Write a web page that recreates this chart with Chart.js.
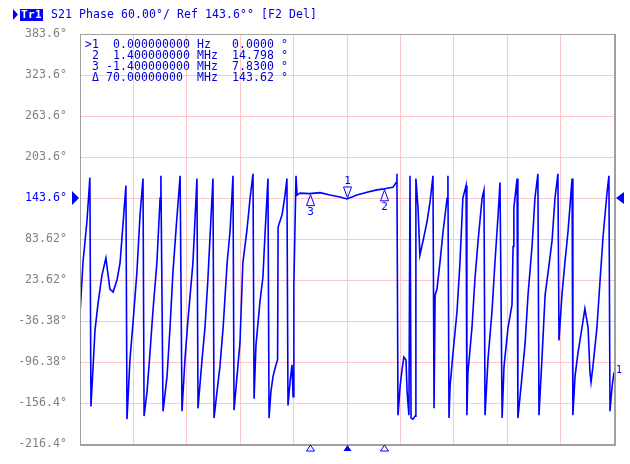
<!DOCTYPE html>
<html>
<head>
<meta charset="utf-8">
<script src="https://cdn.jsdelivr.net/npm/chart.js@4/dist/chart.umd.min.js"></script>
<style>
  body { margin: 0; background: #fff; }
  #chart { display: block; }
</style>
</head>
<body>
<canvas id="chart" width="630" height="464"></canvas>
<script>
// S21 phase trace (MHz offset from centre, degrees)
freqMHz = [
  -10.00, -9.89, -9.74, -9.63, -9.59, -9.51, -9.44, -9.33, -9.18, -9.03,
  -8.88, -8.76, -8.61, -8.50, -8.39, -8.28, -8.24, -8.13, -8.01, -7.87,
  -7.75, -7.64, -7.60, -7.49, -7.38, -7.27, -7.12, -7.00, -6.97, -6.89,
  -6.74, -6.63, -6.52, -6.37, -6.25, -6.18, -6.07, -5.96, -5.77, -5.62,
  -5.58, -5.43, -5.32, -5.21, -5.02, -4.98, -4.87, -4.76, -4.64, -4.49,
  -4.38, -4.27, -4.23, -4.12, -4.01, -3.90, -3.75, -3.63, -3.52, -3.48,
  -3.41, -3.26, -3.15, -3.07, -2.96, -2.92, -2.85, -2.77, -2.66, -2.60,
  -2.58, -2.43, -2.32, -2.25, -2.21, -2.13, -2.06, -2.02, -1.99, -1.91,
  -1.87, -1.76, -1.40, -1.01, -0.64, -0.26, 0.00, 0.37, 0.75, 1.12,
  1.40, 1.50, 1.72, 1.84, 1.87, 1.91, 1.99, 2.06, 2.13, 2.21,
  2.25, 2.32, 2.36, 2.40, 2.47, 2.55, 2.58, 2.66, 2.73, 2.85,
  3.00, 3.11, 3.22, 3.26, 3.30, 3.37, 3.48, 3.60, 3.75, 3.78,
  3.82, 3.86, 3.97, 4.12, 4.23, 4.34, 4.46, 4.49, 4.53, 4.68,
  4.79, 4.91, 5.06, 5.13, 5.17, 5.28, 5.43, 5.54, 5.66, 5.73,
  5.81, 5.88, 6.03, 6.18, 6.22, 6.25, 6.37, 6.40, 6.52, 6.67,
  6.78, 6.93, 7.04, 7.15, 7.19, 7.30, 7.42, 7.53, 7.68, 7.79,
  7.90, 7.94, 8.05, 8.16, 8.28, 8.43, 8.46, 8.54, 8.65, 8.80,
  8.91, 9.03, 9.10, 9.14, 9.21, 9.36, 9.48, 9.59, 9.74, 9.81,
  9.85, 9.93, 10.00
];
phaseDeg = [
  -26.6, 48.6, 109.6, 173.4, -161.4, -103.2, -50.7, -12.4, 30.1, 55.7,
  10.3, 6.0, 24.4, 48.6, 105.3, 162.0, -179.9, -93.3, -36.5, 34.4,
  119.5, 172.0, -175.5, -140.1, -83.3, -22.4, 48.6, 143.6, 176.2, -168.5,
  -117.4, -46.5, 34.4, 115.2, 176.2, -168.5, -93.3, -36.5, 48.6, 172.0,
  -164.2, -93.3, -46.5, 24.4, 172.0, -178.4, -140.1, -103.2, -46.5, 48.6,
  95.4, 176.2, -167.0, -117.4, -69.2, 48.6, 95.4, 143.6, 179.1, -150.0,
  -72.0, -8.1, 27.3, 91.1, 172.0, -178.4, -140.1, -117.4, -100.4, -93.3,
  101.0, 119.5, 147.9, 172.0, -159.9, -124.5, -100.4, -147.2, 15.9, 176.2,
  147.9, 150.7, 150.0, 151.5, 147.9, 145.0, 142.2, 147.9, 152.1, 155.5,
  157.0, 157.8, 159.2, 166.3, 179.1, -174.1, -131.6, -107.5, -89.0, -93.3,
  -140.1, -174.1, 176.2, -178.4, -179.9, -175.5, 172.0, 129.4, 59.9, 81.2,
  109.6, 137.9, 176.2, -164.2, 1.8, 10.3, 48.6, 95.4, 143.6, 176.2,
  -178.4, -131.6, -83.3, -22.4, 48.6, 143.6, 162.0, -174.1, -111.7, -46.5,
  24.4, 81.2, 143.6, 155.0, -174.1, -93.3, -22.4, 48.6, 119.5, 166.3,
  -178.4, -103.2, -46.5, -12.4, 72.7, 129.4, 172.0, -178.4, -131.6, -69.2,
  1.8, 72.7, 143.6, 179.1, -174.1, -93.3, 1.8, 34.4, 81.2, 143.6,
  179.1, -64.9, 1.8, 48.6, 95.4, 172.0, -174.1, -117.4, -83.3, -46.5,
  -18.1, -46.5, -111.7, -125.9, -103.2, -46.5, 24.4, 86.9, 152.1, 176.2,
  -168.5, -131.6, -111.7
];

tickValues = [383.6, 323.6, 263.6, 203.6, 143.6, 83.62, 23.62, -36.38, -96.38, -156.4, -216.4];
tickLabels = ['383.6°', '323.6°', '263.6°', '203.6°', '143.6°', '83.62°', '23.62°', '-36.38°', '-96.38°', '-156.4°', '-216.4°'];
refLevel = 143.6;

markerFreq = [0, 1.4, -1.4];
markerPhase = [142.2, 157.0, 150.0];
markerNames = ['1', '2', '3'];

markerRows = [
  '>1  0.000000000 Hz   0.0000 °',
  ' 2  1.400000000 MHz  14.798 °',
  ' 3 -1.400000000 MHz  7.8300 °',
  ' Δ 70.00000000  MHz  143.62 °'
];

headerText = 'S21 Phase 60.00°/ Ref 143.6°° [F2 Del]';

var blue = '#0000ff';
var textBlue = '#0000d8';
var labelGrey = '#808080';
var mono = '"DejaVu Sans Mono", "Liberation Mono", monospace';

function monoText(ctx, s, x, y) {
  // fixed 7px pitch like the analyser screen
  for (var i = 0; i < s.length; i++) {
    ctx.fillText(s[i], x + i * 7, y);
  }
}

function tri(ctx, x, y, w, h, fill) {
  ctx.beginPath();
  ctx.moveTo(x, y);
  ctx.lineTo(x - w / 2, y + h);
  ctx.lineTo(x + w / 2, y + h);
  ctx.closePath();
  if (fill) ctx.fill(); else ctx.stroke();
}

var screenPlugin = {
  id: 'screen',
  afterDraw: function(chart) {
    var ctx = chart.ctx;
    var a = chart.chartArea;
    var xs = chart.scales.x;
    var ys = chart.scales.y;
    ctx.save();

    // frame
    ctx.strokeStyle = '#a0a0a0';
    ctx.lineWidth = 1;
    ctx.beginPath();
    ctx.moveTo(a.left + 0.5, a.bottom);
    ctx.lineTo(a.left + 0.5, a.top + 0.5);
    ctx.lineTo(a.right, a.top + 0.5);
    ctx.stroke();
    ctx.lineWidth = 2;
    ctx.beginPath();
    ctx.moveTo(a.left, a.bottom + 1);
    ctx.lineTo(a.right + 1, a.bottom + 1);
    ctx.lineTo(a.right + 1, a.top);
    ctx.stroke();

    // header
    ctx.fillStyle = blue;
    ctx.beginPath();
    ctx.moveTo(13, 9); ctx.lineTo(18, 14.5); ctx.lineTo(13, 20); ctx.closePath();
    ctx.fill();
    ctx.fillRect(20, 9, 23, 12);
    ctx.font = 'bold 11px ' + mono;
    ctx.textBaseline = 'middle';
    ctx.textAlign = 'left';
    ctx.fillStyle = '#ffffff';
    monoText(ctx, 'Tr1', 21, 15);
    ctx.font = '11.5px ' + mono;
    ctx.fillStyle = textBlue;
    monoText(ctx, headerText, 51, 15);

    // marker readout
    for (var r = 0; r < markerRows.length; r++) {
      monoText(ctx, markerRows[r], 85, 45 + r * 11);
    }

    // reference arrows
    var ry = ys.getPixelForValue(refLevel);
    ctx.fillStyle = blue;
    ctx.beginPath();
    ctx.moveTo(a.left - 1, ry); ctx.lineTo(a.left - 8, ry - 7); ctx.lineTo(a.left - 8, ry + 7); ctx.closePath();
    ctx.fill();
    ctx.beginPath();
    ctx.moveTo(a.right + 2, ry); ctx.lineTo(a.right + 10, ry - 6); ctx.lineTo(a.right + 10, ry + 6); ctx.closePath();
    ctx.fill();

    // markers on the trace
    ctx.strokeStyle = blue;
    ctx.lineWidth = 1;
    ctx.font = '11px ' + mono;
    ctx.textAlign = 'center';
    for (var m = 0; m < markerFreq.length; m++) {
      var mx = Math.round(xs.getPixelForValue(markerFreq[m])) + 0.5;
      var my = ys.getPixelForValue(markerPhase[m]);
      if (m === 0) {
        ctx.beginPath();
        ctx.moveTo(mx, my - 1);
        ctx.lineTo(mx - 4, my - 12);
        ctx.lineTo(mx + 4, my - 12);
        ctx.closePath();
        ctx.stroke();
        ctx.fillText(markerNames[m], mx, my - 18);
      } else {
        tri(ctx, mx, my + 1, 8, 11, false);
        ctx.fillText(markerNames[m], mx, my + 18);
      }
      // marker position along the bottom edge
      tri(ctx, mx, a.bottom + 1, 8, 6, m === 0);
    }

    // trace end label
    ctx.textAlign = 'left';
    ctx.font = '10px ' + mono;
    ctx.fillText('1', a.right + 2, ys.getPixelForValue(-111.7) - 2);

    ctx.restore();
  }
};

points = freqMHz.map(function(f, i) { return { x: f, y: phaseDeg[i] }; });

ctx = document.getElementById('chart').getContext('2d');
chart = new Chart(ctx, {
  type: 'line',
  data: {
    datasets: [{
      data: points,
      borderColor: blue,
      borderWidth: 1.6,
      pointRadius: 0,
      tension: 0,
      fill: false
    }]
  },
  options: {
    responsive: false,
    animation: false,
    layout: { padding: { left: 0, right: 16, top: 34, bottom: 6 } },
    plugins: { legend: { display: false }, tooltip: { enabled: false } },
    scales: {
      x: {
        type: 'linear',
        min: -10,
        max: 10,
        ticks: { display: false, stepSize: 2 },
        grid: { color: '#ffc8c8', lineWidth: 1, drawTicks: false },
        border: { display: false },
        afterFit: function(scale) { scale.height = 0; }
      },
      y: {
        min: -216.4,
        max: 383.6,
        afterBuildTicks: function(scale) {
          scale.ticks = tickValues.map(function(v) { return { value: v }; });
        },
        afterFit: function(scale) { scale.width = 80; },
        ticks: {
          padding: 13,
          font: { family: mono, size: 11.6 },
          color: tickValues.map(function(v) { return v === refLevel ? blue : labelGrey; }),
          callback: function(v, i) { return tickLabels[i]; }
        },
        grid: { color: '#ffc8c8', lineWidth: 1, drawTicks: false },
        border: { display: false }
      }
    }
  },
  plugins: [screenPlugin]
});
</script>
</body>
</html>
